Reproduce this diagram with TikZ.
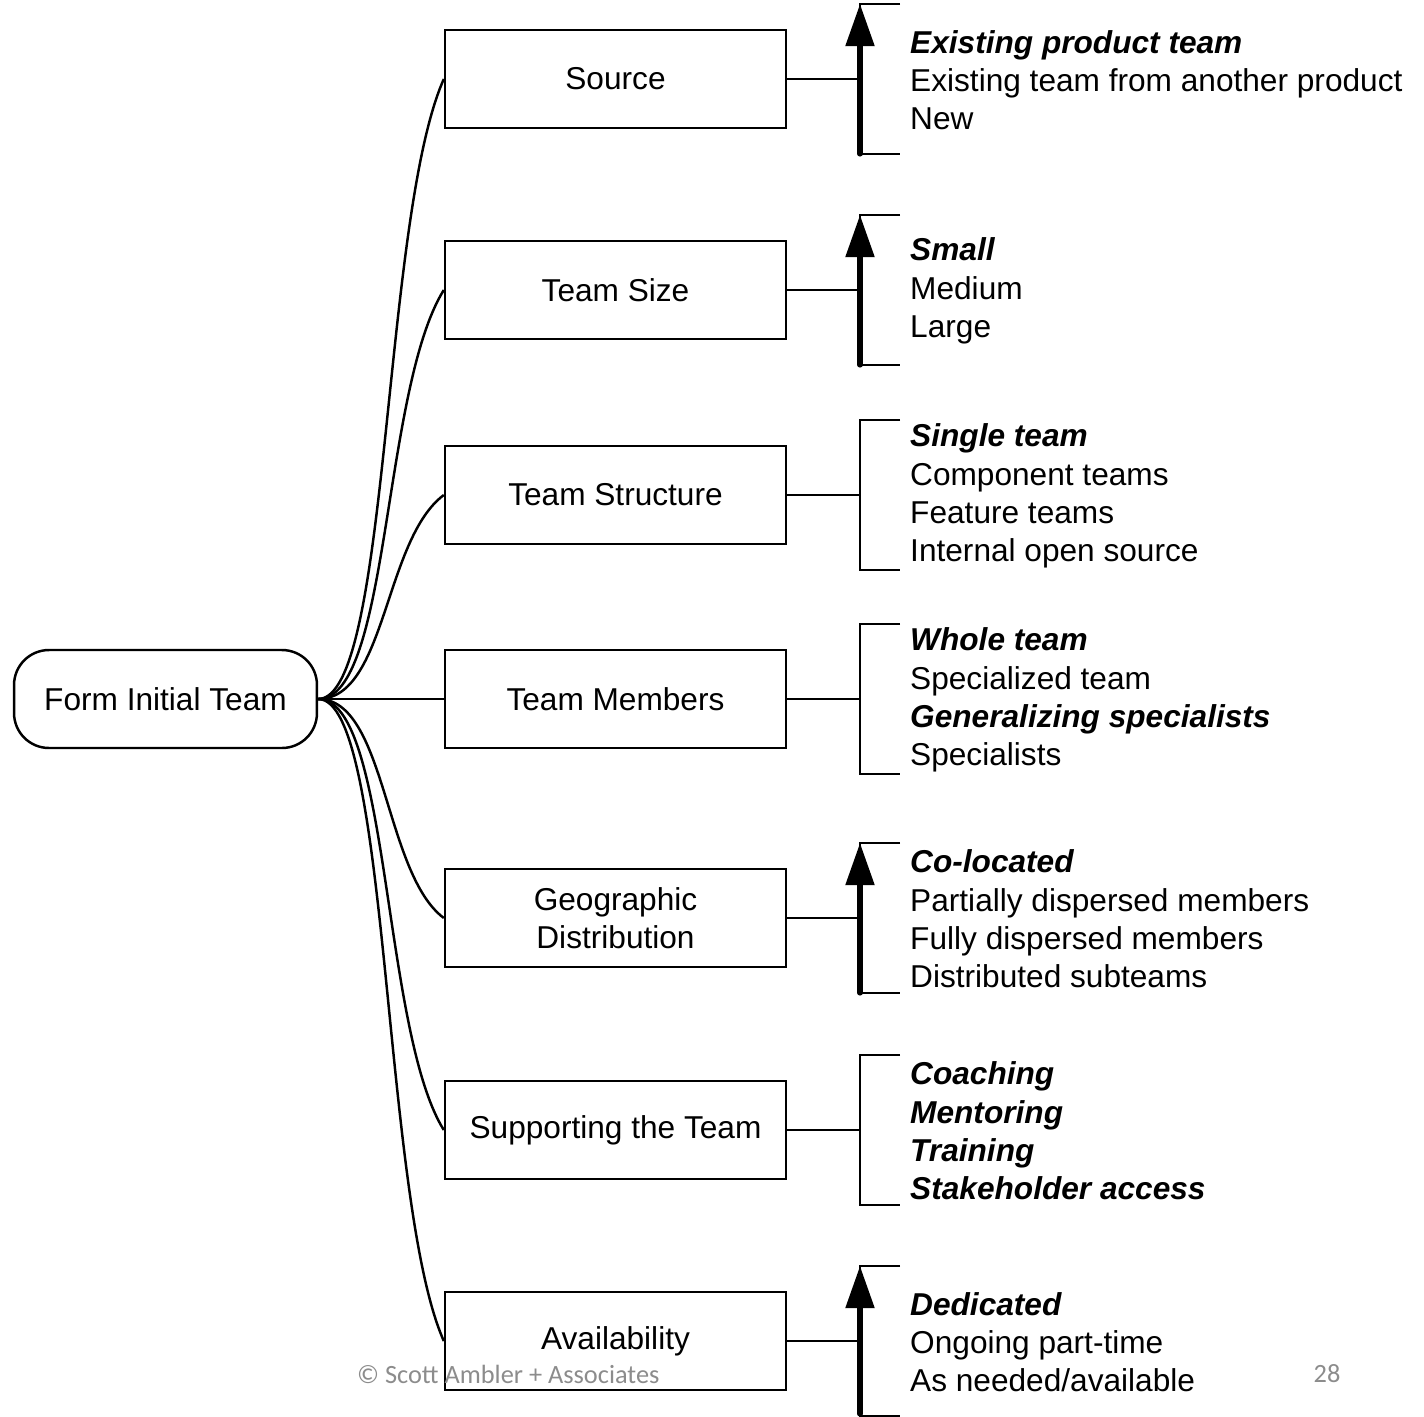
\documentclass[tikz,border=0pt]{standalone}
\usepackage{fontspec}
\setmainfont{Liberation Sans}
\newfontfamily\footfont{Carlito}
\usetikzlibrary{arrows.meta}
\definecolor{footgray}{HTML}{8C8C8C}
\begin{document}
\begin{tikzpicture}[x=0.02cm,y=-0.02cm,line width=1.4pt,
  box/.style={draw,minimum width=6.82cm,minimum height=1.96cm,align=center,
    font=\fontsize{18}{21.6}\selectfont},
  rootbox/.style={box,minimum width=6.06cm,rounded corners=0.7cm},
  choices/.style={anchor=west,align=left,inner sep=0pt,
    font=\fontsize{18}{21.8}\selectfont},
  upward/.style={line width=2.9pt,line cap=round,-{Triangle[length=24pt,width=16pt]}},
  foot/.style={text=footgray,font=\footfont\fontsize{15}{18}\selectfont}]
\useasboundingbox (0,0) rectangle (1424,1417);

\node[rootbox] (root) at (165.5,699) {Form Initial Team};

\node[box] (s1) at (615.5,79) {Source};
\node[box] (s2) at (615.5,290) {Team Size};
\node[box] (s3) at (615.5,495) {Team Structure};
\node[box] (s4) at (615.5,699) {Team Members};
\node[box] (s5) at (615.5,918) {Geographic\\Distribution};
\node[box] (s6) at (615.5,1130) {Supporting the Team};
\node[box] (s7) at (615.5,1341) {Availability};

\draw (root.east) .. controls +(72,0) and +(-62,140) .. (s1.west);
\draw (root.east) .. controls +(72,0) and +(-62,100) .. (s2.west);
\draw (root.east) .. controls +(68,0) and +(-60,45) .. (s3.west);
\draw (root) -- (s4);
\draw (root.east) .. controls +(68,0) and +(-60,-45) .. (s5.west);
\draw (root.east) .. controls +(72,0) and +(-62,-100) .. (s6.west);
\draw (root.east) .. controls +(72,0) and +(-62,-140) .. (s7.west);

\coordinate (k1) at (860,79);
\coordinate (k2) at (860,290);
\coordinate (k3) at (860,495);
\coordinate (k4) at (860,699);
\coordinate (k5) at (860,918);
\coordinate (k6) at (860,1130);
\coordinate (k7) at (860,1341);

\draw (s1) -- (k1);
\draw (s2) -- (k2);
\draw (s3) -- (k3);
\draw (s4) -- (k4);
\draw (s5) -- (k5);
\draw (s6) -- (k6);
\draw (s7) -- (k7);

\draw (900,4) -- (860,4) -- (860,154) -- (900,154);
\draw (900,215) -- (860,215) -- (860,365) -- (900,365);
\draw (900,420) -- (860,420) -- (860,570) -- (900,570);
\draw (900,624) -- (860,624) -- (860,774) -- (900,774);
\draw (900,843) -- (860,843) -- (860,993) -- (900,993);
\draw (900,1055) -- (860,1055) -- (860,1205) -- (900,1205);
\draw (900,1266) -- (860,1266) -- (860,1416) -- (900,1416);

\draw[upward] (860,154) -- (860,4);
\draw[upward] (860,365) -- (860,215);
\draw[upward] (860,993) -- (860,843);
\draw[upward] (860,1414) -- (860,1266);

\node[choices] (c1) at (909,80) {\textbf{\textit{Existing product team}}\\Existing team from another product\\New};
\node[choices] (c2) at (909,291) {\textbf{\textit{Small}}\\Medium\\Large};
\node[choices] (c3) at (909,496) {\textbf{\textit{Single team}}\\Component teams\\Feature teams\\Internal open source};
\node[choices] (c4) at (909,700) {\textbf{\textit{Whole team}}\\Specialized team\\\textbf{\textit{Generalizing specialists}}\\Specialists};
\node[choices] (c5) at (909,919) {\textbf{\textit{Co-located}}\\Partially dispersed members\\Fully dispersed members\\Distributed subteams};
\node[choices] (c6) at (909,1131) {\textbf{\textit{Coaching}}\\\textbf{\textit{Mentoring}}\\\textbf{\textit{Training}}\\\textbf{\textit{Stakeholder access}}};
\node[choices] (c7) at (909,1342) {\textbf{\textit{Dedicated}}\\Ongoing part-time\\As needed/available};

\node[foot,anchor=west] (copy) at (350,1374) {© Scott Ambler + Associates};
\node[foot] (page) at (1327,1374) {28};
\end{tikzpicture}
\end{document}
